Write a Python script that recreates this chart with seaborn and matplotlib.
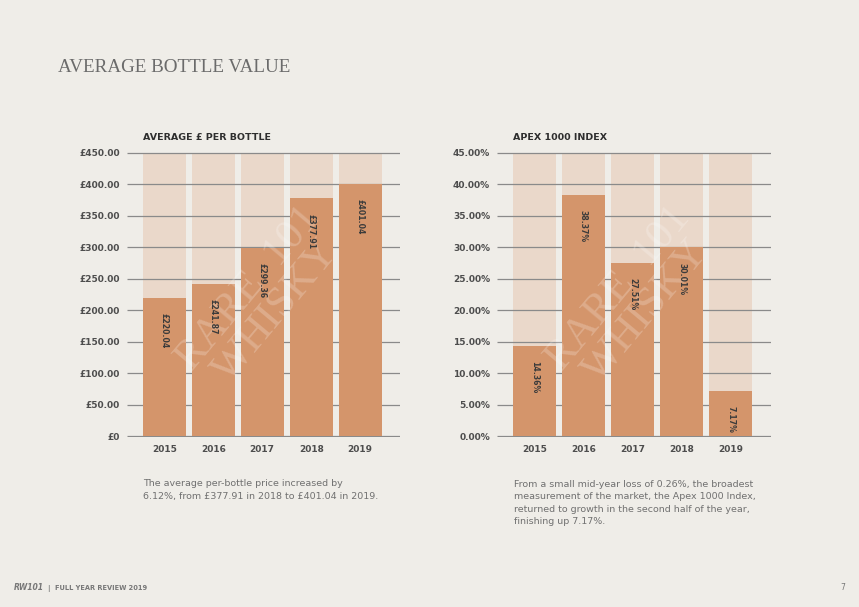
import seaborn as sns
import matplotlib.pyplot as plt
import numpy as np
import pandas as pd

# data
years = ['2015', '2016', '2017', '2018', '2019']
avg_price = [220.04, 241.87, 299.36, 377.91, 401.04]
apex_index = [14.36, 38.37, 27.51, 30.01, 7.17]
price_ticks = [0, 50, 100, 150, 200, 250, 300, 350, 400, 450]
index_ticks = [0, 5, 10, 15, 20, 25, 30, 35, 40, 45]
price_labels = ['£0'] + ['£%.2f' % v for v in price_ticks[1:]]
index_labels = ['%.2f%%' % v for v in index_ticks]
price_vals = ['£%.2f' % v for v in avg_price]
index_vals = ['%.2f%%' % v for v in apex_index]

PAPER = '#efede8'
BAR = '#d4956b'
BAR_BG = '#ead8ca'
GRID = '#8a8a8a'
TXT = '#3b3b3b'

sns.set_theme(style='white')
plt.rcParams['font.family'] = ['DejaVu Sans']

fig = plt.figure(figsize=(8.59, 6.07), dpi=100, facecolor=PAPER)
ax1 = fig.add_axes([0.148, 0.2800, 0.318, 0.4695])
ax2 = fig.add_axes([0.5786, 0.2800, 0.319, 0.4695])


def f_drawPanel(ax, vals, ticks, ticklabels, vallabels, s_title):
    top = ticks[-1]
    df_bg = pd.DataFrame({'year': years, 'v': [top] * len(years)})
    df = pd.DataFrame({'year': years, 'v': vals})
    sns.barplot(data=df_bg, x='year', y='v', color=BAR_BG, saturation=1,
                width=0.88, ax=ax, linewidth=0)
    n_bg = len(ax.patches)
    sns.barplot(data=df, x='year', y='v', color=BAR, saturation=1,
                width=0.88, ax=ax, linewidth=0)
    for k, p in enumerate(ax.patches):
        p.set_zorder(1 if k < n_bg else 3)
    ax.set_facecolor('none')
    ax.set_xlim(-0.76, 4.82)
    ax.set_ylim(-top * 0.003, top * 1.003)
    ax.set_yticks(ticks)
    ax.set_yticklabels(ticklabels)
    ax.grid(False)
    # grid between the pale and the solid bars
    ax.hlines(ticks, -0.76, 4.82, colors=GRID, linewidth=0.9, zorder=2)
    for sp in ax.spines.values():
        sp.set_visible(False)
    ax.set_xlabel('')
    ax.set_ylabel('')
    ax.tick_params(axis='y', length=0, pad=5, labelsize=6.5, labelcolor='#4d4d4d')
    ax.tick_params(axis='x', length=0, pad=6, labelsize=6.5, labelcolor='#4d4d4d')
    for lab in ax.get_xticklabels() + ax.get_yticklabels():
        lab.set_fontweight('bold')
    for i, (v, s) in enumerate(zip(vals, vallabels)):
        ax.annotate(s, (i, v), xytext=(0, -11), textcoords='offset points',
                    rotation=270, ha='center', va='top', fontsize=5.6,
                    fontweight='bold', color=TXT, zorder=5)
    ax.text(-0.44, top * 1.04, s_title, fontsize=6.8, fontweight='bold',
            color='#2e2e2e', ha='left', va='bottom')
    # faint watermark
    ax.text(2.0, top * 0.48, 'RARE  101\nWHISKY', rotation=50,
            fontsize=31, family='Liberation Serif', color='white', alpha=0.22,
            ha='center', va='center', linespacing=0.9, zorder=4)


f_drawPanel(ax1, avg_price, price_ticks, price_labels, price_vals,
            'AVERAGE £ PER BOTTLE')
f_drawPanel(ax2, apex_index, index_ticks, index_labels, index_vals,
            'APEX 1000 INDEX')

fig.text(58 / 859, 1 - 67 / 607, 'AVERAGE BOTTLE VALUE', fontsize=13.7,
         family='Liberation Serif', color='#6b6b6b', va='center', ha='left')

fig.text(143 / 859, 1 - 490 / 607,
         'The average per-bottle price increased by\n'
         '6.12%, from £377.91 in 2018 to £401.04 in 2019.',
         fontsize=6.8, color='#707070', va='center', ha='left', linespacing=1.45)
fig.text(514 / 859, 1 - 503 / 607,
         'From a small mid-year loss of 0.26%, the broadest\n'
         'measurement of the market, the Apex 1000 Index,\n'
         'returned to growth in the second half of the year,\n'
         'finishing up 7.17%.',
         fontsize=6.8, color='#707070', va='center', ha='left', linespacing=1.45)

fig.text(14 / 859, 1 - 588 / 607, 'RW101', fontsize=5.5, fontweight='bold',
         style='italic', color='#777777', va='center', ha='left')
fig.text(48 / 859, 1 - 588 / 607, '|  FULL YEAR REVIEW 2019', fontsize=4.8,
         fontweight='bold', color='#777777', va='center', ha='left')
fig.text(840 / 859, 1 - 588 / 607, '7', fontsize=5.5, color='#777777',
         va='center', ha='left')

fig.savefig('out.png', dpi=100, facecolor=PAPER)
